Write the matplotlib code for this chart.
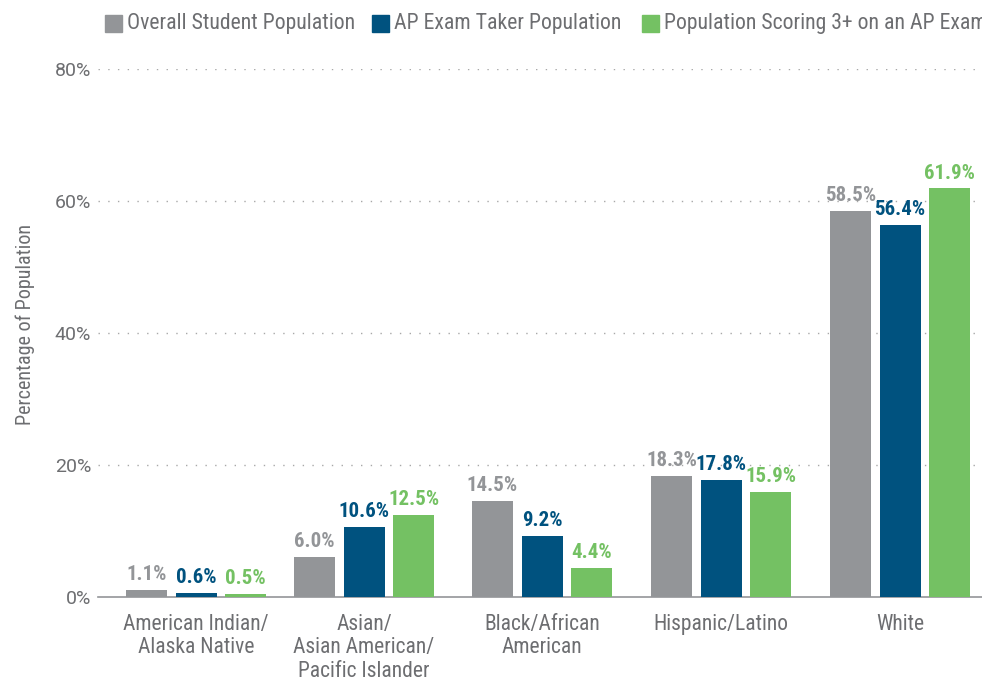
import matplotlib
matplotlib.use("Agg")
import matplotlib.pyplot as plt
from matplotlib import font_manager as fm
from matplotlib.patches import Rectangle
import numpy as np

categories = ["American Indian/\nAlaska Native", "Asian/\nAsian American/\nPacific Islander",
              "Black/African\nAmerican", "Hispanic/Latino", "White"]
series_names = ["Overall Student Population", "AP Exam Taker Population",
                "Population Scoring 3+ on an AP Exam"]
overall = [1.1, 6.0, 14.5, 18.3, 58.5]
takers = [0.6, 10.6, 9.2, 17.8, 56.4]
scoring = [0.5, 12.5, 4.4, 15.9, 61.9]
yticks = [0, 20, 40, 60, 80]
colors = ["#939598", "#00527f", "#74c163"]

# layout (pixel centres of the category groups)
group_px = [196, 364, 542, 721, 900]

names = {f.name for f in fm.fontManager.ttflist}
fam = "Roboto" if "Roboto" in names else "DejaVu Sans"
cfam = fam
for cand in ["Roboto Condensed", "Barlow Condensed", "Archivo Narrow"]:
    if cand in names:
        cfam = cand
        break
plt.rcParams["font.family"] = [fam, "DejaVu Sans"]
CF = [cfam, "DejaVu Sans"]

txt = "#6d6e71"
fig = plt.figure(figsize=(9.82, 6.79), dpi=100)
W, H = 982, 679
left_px, right_px, bottom_px, top_px = 98, 982, 597, 69
ax = fig.add_axes([left_px / W, 1 - bottom_px / H, (right_px - left_px) / W, (bottom_px - top_px) / H])
ax.set_xlim(left_px, right_px)
ax.set_ylim(0, 80)

x = np.array(group_px, dtype=float)
bw = 41
off = 49.5
data = [overall, takers, scoring]
for i, (vals, c) in enumerate(zip(data, colors)):
    xs = x + (i - 1) * off
    ax.bar(xs, vals, width=bw, color=c, zorder=3)
    for xi, v in zip(xs, vals):
        ax.text(xi, v + 0.9, f"{v:.1f}%", ha="center", va="bottom", color=c,
                fontsize=15, fontweight="bold", family=CF, zorder=4)

for s in ["left", "right", "top"]:
    ax.spines[s].set_visible(False)
ax.spines["bottom"].set_color("#939598")
ax.spines["bottom"].set_linewidth(1.2)

ax.set_yticks(yticks)
ax.set_yticklabels([f"{t}%" for t in yticks], color=txt, fontsize=14)
ax.tick_params(axis="y", length=0, pad=5)
for t in yticks[1:]:
    ax.axhline(t, color="#a8a8a8", linestyle=(0, (1, 6)), linewidth=1, zorder=1)

ax.set_xticks(x)
ax.set_xticklabels(categories, color=txt, fontsize=15.5, linespacing=1.17, family=CF)
ax.tick_params(axis="x", length=0, pad=12)

fig.text(25 / W, 1 - 324 / H, "Percentage of Population", rotation=90, ha="center", va="center",
         color=txt, fontsize=14.5, family=CF)

leg_y = 1 - 24 / H
sq_x = [105, 372, 642]
for sx, c, name in zip(sq_x, colors, series_names):
    fig.patches.append(Rectangle((sx / W, 1 - 32 / H), 17 / W, 17 / H, color=c, transform=fig.transFigure))
    fig.text((sx + 22) / W, leg_y, name, ha="left", va="center", color=txt, fontsize=15.7, family=CF)

fig.savefig("out.png", dpi=100)
